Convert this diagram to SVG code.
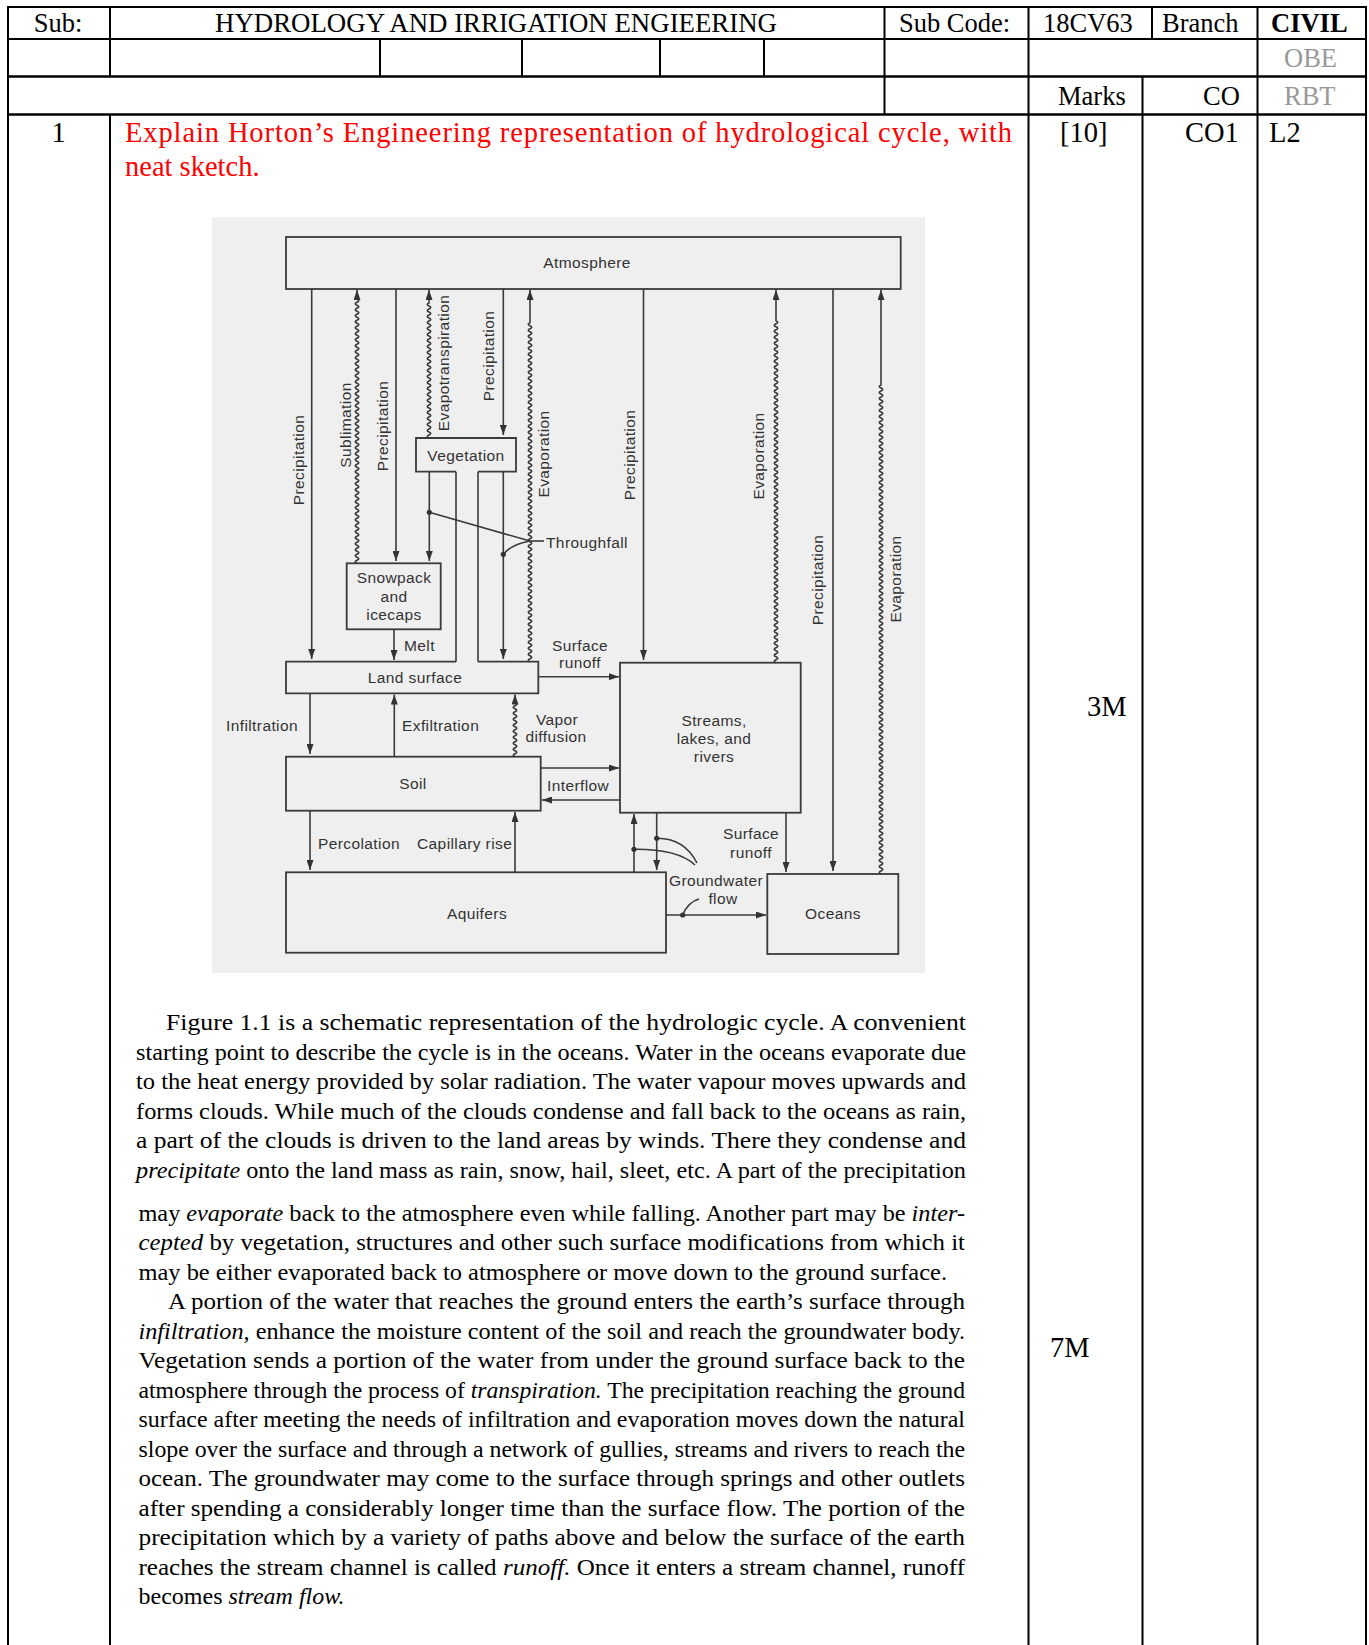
<svg xmlns="http://www.w3.org/2000/svg" width="1369" height="1645" viewBox="0 0 1369 1645">
<defs>
<style>
.t{font-family:'Liberation Serif','Times New Roman',serif;fill:#000}
.h{font-size:26.5px}
.q{font-size:28.5px}
.p{font-size:24px}
.gr{fill:#999}
.red{fill:#ff0000}
.b{font-weight:bold}
.i{font-style:italic}
.grid line{stroke:#000;stroke-width:2}
.d{font-family:'Liberation Sans',Arial,sans-serif;font-size:15.5px;fill:#333;letter-spacing:0.4px;dominant-baseline:central}
.m{text-anchor:middle}
.box{fill:none;stroke:#3a3a3a;stroke-width:1.8}
.ln{fill:none;stroke:#3a3a3a;stroke-width:1.6}
.ar{marker-end:url(#arr)}
.dot{fill:#333}
</style>
<marker id="arr" viewBox="0 0 10 7" refX="10" refY="3.5" markerWidth="10" markerHeight="7" markerUnits="userSpaceOnUse" orient="auto"><path d="M0,0 L10,3.5 L0,7 z" fill="#333"/></marker>
</defs>
<rect width="1369" height="1645" fill="#fff"/>

<g id="table" class="grid">
<line x1="7" y1="7" x2="1367" y2="7"/>
<line x1="7" y1="39" x2="1367" y2="39"/>
<line x1="7" y1="76.5" x2="1367" y2="76.5" style="stroke-width:2.5"/>
<line x1="7" y1="114.5" x2="1367" y2="114.5" style="stroke-width:2.5"/>
<line x1="8" y1="6" x2="8" y2="1645"/>
<line x1="110" y1="6" x2="110" y2="76.5"/>
<line x1="110" y1="114.5" x2="110" y2="1645"/>
<line x1="380" y1="39" x2="380" y2="76.5"/>
<line x1="522" y1="39" x2="522" y2="76.5"/>
<line x1="660" y1="39" x2="660" y2="76.5"/>
<line x1="764" y1="39" x2="764" y2="76.5"/>
<line x1="884.5" y1="6" x2="884.5" y2="114.5"/>
<line x1="1028.5" y1="6" x2="1028.5" y2="1645"/>
<line x1="1152" y1="6" x2="1152" y2="39"/>
<line x1="1142.5" y1="76.5" x2="1142.5" y2="1645"/>
<line x1="1257.5" y1="6" x2="1257.5" y2="1645"/>
<line x1="1366" y1="6" x2="1366" y2="1645"/>
<text class="t h m" x="58" y="32">Sub:</text>
<text class="t h" x="215" y="32" textLength="562" lengthAdjust="spacingAndGlyphs">HYDROLOGY AND IRRIGATION ENGIEERING</text>
<text class="t h" x="899" y="32">Sub Code:</text>
<text class="t h" x="1043" y="32">18CV63</text>
<text class="t h" x="1162" y="32">Branch</text>
<text class="t h b" x="1271" y="32">CIVIL</text>
<text class="t h gr" x="1284" y="67">OBE</text>
<text class="t h" x="1058" y="105">Marks</text>
<text class="t h" x="1203" y="105">CO</text>
<text class="t h gr" x="1284" y="105">RBT</text>
<text class="t q m" x="58.7" y="142">1</text>
<text class="t q red" x="125" y="142" textLength="887" lengthAdjust="spacing">Explain Horton’s Engineering representation of hydrological cycle, with</text>
<text class="t q red" x="125" y="176">neat sketch.</text>
<text class="t q" x="1060" y="142">[10]</text>
<text class="t q" x="1185" y="142">CO1</text>
<text class="t q" x="1269" y="142">L2</text>
<text class="t q" x="1087" y="716">3M</text>
<text class="t q" x="1050" y="1357">7M</text>
</g>

<rect id="figure-bg" x="212" y="217" width="713" height="756" fill="#efefef"/>

<g id="atmosphere">
<rect class="box" x="286" y="237" width="614.7" height="52"/>
<text class="d m" x="587" y="262">Atmosphere</text>
</g>
<g id="vegetation">
<path class="box" d="M456,471.7 H416 V438 H516 V471.7 H478"/>
<line class="ln" x1="456" y1="471.7" x2="456" y2="661.7"/>
<line class="ln" x1="478" y1="471.7" x2="478" y2="661.7"/>
<text class="d m" x="466" y="455">Vegetation</text>
</g>
<g id="snowpack">
<rect class="box" x="346.7" y="563.3" width="94" height="66"/>
<text class="d m" x="394" y="577">Snowpack</text>
<text class="d m" x="394" y="596">and</text>
<text class="d m" x="394" y="614">icecaps</text>
</g>
<g id="land-surface">
<path class="box" d="M456,661.7 H286 V693.3 H538.3 V661.7 H478"/>
<text class="d m" x="415" y="677">Land surface</text>
</g>
<g id="soil">
<rect class="box" x="286" y="756.7" width="254.7" height="54"/>
<text class="d m" x="413" y="783">Soil</text>
</g>
<g id="aquifers">
<rect class="box" x="286" y="872.3" width="380" height="80.4"/>
<text class="d m" x="477" y="913">Aquifers</text>
</g>
<g id="streams">
<rect class="box" x="620" y="662.7" width="180.7" height="150"/>
<text class="d m" x="714" y="720">Streams,</text>
<text class="d m" x="714" y="738">lakes, and</text>
<text class="d m" x="714" y="756">rivers</text>
</g>
<g id="oceans">
<rect class="box" x="767.3" y="874" width="131" height="80"/>
<text class="d m" x="833" y="913">Oceans</text>
</g>

<g id="connectors">
<path class="ln ar" d="M311.7,289 V659"/>
<path class="ln ar" d="M396,289 V561"/>
<path class="ln ar" d="M503.3,289 V435"/>
<path class="ln ar" d="M503.3,471.7 V659"/>
<path class="ln ar" d="M429.3,471.7 V561"/>
<path class="ln ar" d="M394,629.3 V660"/>
<path class="ln ar" d="M643.5,289 V660"/>
<path class="ln ar" d="M833,289 V871"/>
<path class="ln ar" d="M310,693.3 V754"/>
<path class="ln ar" d="M310,810.7 V870"/>
<path class="ln ar" d="M394.3,756.7 V694.5"/>
<path class="ln ar" d="M515,872.3 V812"/>
<path class="ln ar" d="M538.3,676.7 H619"/>
<path class="ln ar" d="M540.7,768 H619"/>
<path class="ln ar" d="M620,800 H542"/>
<path class="ln ar" d="M656.7,812.7 V870"/>
<path class="ln ar" d="M634,872.3 V814"/>
<path class="ln ar" d="M786,812.7 V872"/>
<path class="ln ar" d="M666,915 H766"/>
<path class="ln ar" d="M357,563.3q-3.5-1.5 0-3t0-3 0-3 0-3 0-3 0-3 0-3 0-3 0-3 0-3 0-3 0-3 0-3 0-3 0-3 0-3 0-3 0-3 0-3 0-3 0-3 0-3 0-3 0-3 0-3 0-3 0-3 0-3 0-3 0-3 0-3 0-3 0-3 0-3 0-3 0-3 0-3 0-3 0-3 0-3 0-3 0-3 0-3 0-3 0-3 0-3 0-3 0-3 0-3 0-3 0-3 0-3 0-3 0-3 0-3 0-3 0-3 0-3 0-3 0-3 0-3 0-3 0-3 0-3 0-3 0-3 0-3 0-3 0-3 0-3 0-3 0-3 0-3 0-3 0-3 0-3 0-3 0-3 0-3 0-3 0-3 0-3 0-3 0-3 0-3 0-3 0-3 0-3V290"/>
<path class="ln ar" d="M429,438q-3.5-1.5 0-3t0-3 0-3 0-3 0-3 0-3 0-3 0-3 0-3 0-3 0-3 0-3 0-3 0-3 0-3 0-3 0-3 0-3 0-3 0-3 0-3 0-3 0-3 0-3 0-3 0-3 0-3 0-3 0-3 0-3 0-3 0-3 0-3 0-3 0-3 0-3 0-3 0-3 0-3 0-3 0-3 0-3 0-3 0-3 0-3V290"/>
<path class="ln ar" d="M530,661.7q-3.5-1.5 0-3t0-3 0-3 0-3 0-3 0-3 0-3 0-3 0-3 0-3 0-3 0-3 0-3 0-3 0-3 0-3 0-3 0-3 0-3 0-3 0-3 0-3 0-3 0-3 0-3 0-3 0-3 0-3 0-3 0-3 0-3 0-3 0-3 0-3 0-3 0-3 0-3 0-3 0-3 0-3 0-3 0-3 0-3 0-3 0-3 0-3 0-3 0-3 0-3 0-3 0-3 0-3 0-3 0-3 0-3 0-3 0-3 0-3 0-3 0-3 0-3 0-3 0-3 0-3 0-3 0-3 0-3 0-3 0-3 0-3 0-3 0-3 0-3 0-3 0-3 0-3 0-3 0-3 0-3 0-3 0-3 0-3 0-3 0-3 0-3 0-3 0-3 0-3 0-3 0-3 0-3 0-3 0-3 0-3 0-3 0-3 0-3 0-3 0-3 0-3 0-3 0-3 0-3 0-3 0-3 0-3 0-3 0-3 0-3 0-3 0-3 0-3 0-3V290"/>
<path class="ln ar" d="M776,662.7q-3.5-1.5 0-3t0-3 0-3 0-3 0-3 0-3 0-3 0-3 0-3 0-3 0-3 0-3 0-3 0-3 0-3 0-3 0-3 0-3 0-3 0-3 0-3 0-3 0-3 0-3 0-3 0-3 0-3 0-3 0-3 0-3 0-3 0-3 0-3 0-3 0-3 0-3 0-3 0-3 0-3 0-3 0-3 0-3 0-3 0-3 0-3 0-3 0-3 0-3 0-3 0-3 0-3 0-3 0-3 0-3 0-3 0-3 0-3 0-3 0-3 0-3 0-3 0-3 0-3 0-3 0-3 0-3 0-3 0-3 0-3 0-3 0-3 0-3 0-3 0-3 0-3 0-3 0-3 0-3 0-3 0-3 0-3 0-3 0-3 0-3 0-3 0-3 0-3 0-3 0-3 0-3 0-3 0-3 0-3 0-3 0-3 0-3 0-3 0-3 0-3 0-3 0-3 0-3 0-3 0-3 0-3 0-3 0-3 0-3 0-3 0-3 0-3 0-3 0-3 0-3V290"/>
<path class="ln ar" d="M881,874q-3.5-1.5 0-3t0-3 0-3 0-3 0-3 0-3 0-3 0-3 0-3 0-3 0-3 0-3 0-3 0-3 0-3 0-3 0-3 0-3 0-3 0-3 0-3 0-3 0-3 0-3 0-3 0-3 0-3 0-3 0-3 0-3 0-3 0-3 0-3 0-3 0-3 0-3 0-3 0-3 0-3 0-3 0-3 0-3 0-3 0-3 0-3 0-3 0-3 0-3 0-3 0-3 0-3 0-3 0-3 0-3 0-3 0-3 0-3 0-3 0-3 0-3 0-3 0-3 0-3 0-3 0-3 0-3 0-3 0-3 0-3 0-3 0-3 0-3 0-3 0-3 0-3 0-3 0-3 0-3 0-3 0-3 0-3 0-3 0-3 0-3 0-3 0-3 0-3 0-3 0-3 0-3 0-3 0-3 0-3 0-3 0-3 0-3 0-3 0-3 0-3 0-3 0-3 0-3 0-3 0-3 0-3 0-3 0-3 0-3 0-3 0-3 0-3 0-3 0-3 0-3 0-3 0-3 0-3 0-3 0-3 0-3 0-3 0-3 0-3 0-3 0-3 0-3 0-3 0-3 0-3 0-3 0-3 0-3 0-3 0-3 0-3 0-3 0-3 0-3 0-3 0-3 0-3 0-3 0-3 0-3 0-3 0-3 0-3 0-3 0-3 0-3 0-3 0-3 0-3 0-3 0-3 0-3 0-3 0-3 0-3 0-3 0-3 0-3 0-3V290"/>
<path class="ln ar" d="M515,756.7q-3.5-1.5 0-3t0-3 0-3 0-3 0-3 0-3 0-3 0-3 0-3 0-3 0-3 0-3 0-3 0-3 0-3 0-3 0-3 0-3V694.5"/>
<line class="ln" x1="429.3" y1="512.3" x2="530" y2="541"/>
<path class="ln" d="M503.3,554.3 Q512,544 530,541"/>
<line class="ln" x1="530" y1="541" x2="544" y2="541"/>
<path class="ln" d="M656.7,838.3 Q684,838 697,863"/>
<path class="ln" d="M634,849.3 Q678,849 695,865"/>
<path class="ln" d="M682.7,915 Q688,902 699,899"/>
<circle class="dot" cx="429.3" cy="512.3" r="2.6"/>
<circle class="dot" cx="503.3" cy="554.3" r="2.6"/>
<circle class="dot" cx="656.7" cy="838.3" r="2.6"/>
<circle class="dot" cx="634" cy="849.3" r="2.6"/>
<circle class="dot" cx="682.7" cy="915" r="2.6"/>
</g>

<g id="labels">
<text class="d m" transform="translate(298,460) rotate(-90)">Precipitation</text>
<text class="d m" transform="translate(345,425) rotate(-90)">Sublimation</text>
<text class="d m" transform="translate(382,426) rotate(-90)">Precipitation</text>
<text class="d m" transform="translate(443,363) rotate(-90)">Evapotranspiration</text>
<text class="d m" transform="translate(488,356) rotate(-90)">Precipitation</text>
<text class="d m" transform="translate(543,454) rotate(-90)">Evaporation</text>
<text class="d m" transform="translate(629,455) rotate(-90)">Precipitation</text>
<text class="d m" transform="translate(758,456) rotate(-90)">Evaporation</text>
<text class="d m" transform="translate(817,580) rotate(-90)">Precipitation</text>
<text class="d m" transform="translate(895,579) rotate(-90)">Evaporation</text>
<text class="d" x="546" y="542.5">Throughfall</text>
<text class="d" x="404" y="645">Melt</text>
<text class="d m" x="580" y="645">Surface</text>
<text class="d m" x="580" y="662">runoff</text>
<text class="d" x="226" y="725">Infiltration</text>
<text class="d" x="402" y="725">Exfiltration</text>
<text class="d m" x="557" y="719">Vapor</text>
<text class="d m" x="556" y="736">diffusion</text>
<text class="d" x="547" y="785">Interflow</text>
<text class="d" x="318" y="843">Percolation</text>
<text class="d" x="417" y="843">Capillary rise</text>
<text class="d m" x="751" y="833">Surface</text>
<text class="d m" x="751" y="852">runoff</text>
<text class="d m" x="716" y="880">Groundwater</text>
<text class="d m" x="723" y="898">flow</text>
</g>

<g id="paragraph">
<text class="t p" x="166" y="1030" textLength="800" lengthAdjust="spacingAndGlyphs">Figure 1.1 is a schematic representation of the hydrologic cycle. A convenient</text>
<text class="t p" x="136" y="1059.5" textLength="830" lengthAdjust="spacingAndGlyphs">starting point to describe the cycle is in the oceans. Water in the oceans evaporate due</text>
<text class="t p" x="136" y="1089" textLength="830" lengthAdjust="spacingAndGlyphs">to the heat energy provided by solar radiation. The water vapour moves upwards and</text>
<text class="t p" x="136" y="1118.5" textLength="830" lengthAdjust="spacingAndGlyphs">forms clouds. While much of the clouds condense and fall back to the oceans as rain,</text>
<text class="t p" x="136" y="1148" textLength="830" lengthAdjust="spacingAndGlyphs">a part of the clouds is driven to the land areas by winds. There they condense and</text>
<text class="t p" x="136" y="1177.5" textLength="830" lengthAdjust="spacingAndGlyphs"><tspan class="i">precipitate</tspan> onto the land mass as rain, snow, hail, sleet, etc. A part of the precipitation</text>
<text class="t p" x="138.5" y="1220.5" textLength="826.5" lengthAdjust="spacingAndGlyphs">may <tspan class="i">evaporate</tspan> back to the atmosphere even while falling. Another part may be <tspan class="i">inter-</tspan></text>
<text class="t p" x="138.5" y="1250" textLength="826.5" lengthAdjust="spacingAndGlyphs"><tspan class="i">cepted</tspan> by vegetation, structures and other such surface modifications from which it</text>
<text class="t p" x="138.5" y="1279.5" textLength="808.5" lengthAdjust="spacingAndGlyphs">may be either evaporated back to atmosphere or move down to the ground surface.</text>
<text class="t p" x="168" y="1309" textLength="797" lengthAdjust="spacingAndGlyphs">A portion of the water that reaches the ground enters the earth’s surface through</text>
<text class="t p" x="138.5" y="1338.5" textLength="826.5" lengthAdjust="spacingAndGlyphs"><tspan class="i">infiltration,</tspan> enhance the moisture content of the soil and reach the groundwater body.</text>
<text class="t p" x="138.5" y="1368" textLength="826.5" lengthAdjust="spacingAndGlyphs">Vegetation sends a portion of the water from under the ground surface back to the</text>
<text class="t p" x="138.5" y="1397.5" textLength="826.5" lengthAdjust="spacingAndGlyphs">atmosphere through the process of <tspan class="i">transpiration.</tspan> The precipitation reaching the ground</text>
<text class="t p" x="138.5" y="1427" textLength="826.5" lengthAdjust="spacingAndGlyphs">surface after meeting the needs of infiltration and evaporation moves down the natural</text>
<text class="t p" x="138.5" y="1456.5" textLength="826.5" lengthAdjust="spacingAndGlyphs">slope over the surface and through a network of gullies, streams and rivers to reach the</text>
<text class="t p" x="138.5" y="1486" textLength="826.5" lengthAdjust="spacingAndGlyphs">ocean. The groundwater may come to the surface through springs and other outlets</text>
<text class="t p" x="138.5" y="1515.5" textLength="826.5" lengthAdjust="spacingAndGlyphs">after spending a considerably longer time than the surface flow. The portion of the</text>
<text class="t p" x="138.5" y="1545" textLength="826.5" lengthAdjust="spacingAndGlyphs">precipitation which by a variety of paths above and below the surface of the earth</text>
<text class="t p" x="138.5" y="1574.5" textLength="826.5" lengthAdjust="spacingAndGlyphs">reaches the stream channel is called <tspan class="i">runoff.</tspan> Once it enters a stream channel, runoff</text>
<text class="t p" x="138.5" y="1604">becomes <tspan class="i">stream flow.</tspan></text>
</g>
</svg>
